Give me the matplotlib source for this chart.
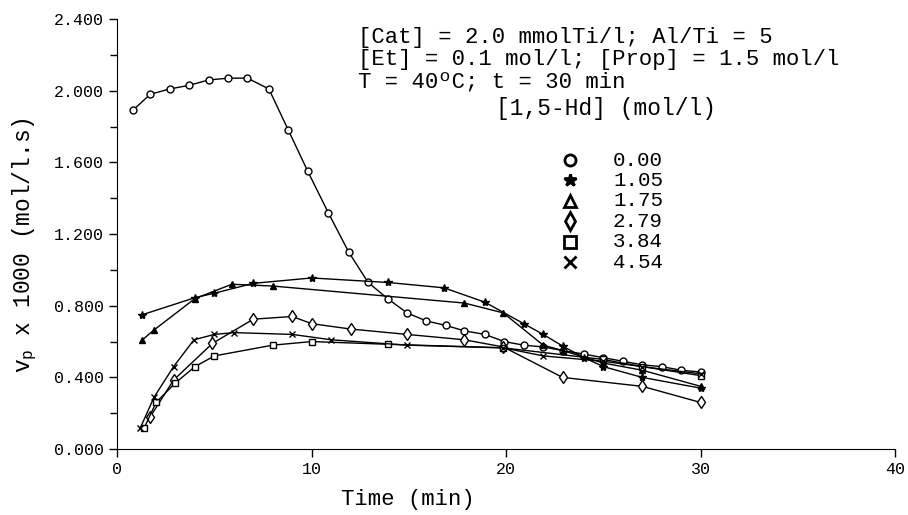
import numpy as np
import matplotlib
matplotlib.use("Agg")
import matplotlib.pyplot as plt
from matplotlib.ticker import MultipleLocator, FormatStrFormatter

plt.rcParams['font.family'] = ['Liberation Mono', 'DejaVu Sans Mono']
plt.rcParams['mathtext.default'] = 'regular'

# [1,5-Hd] (mol/l) series: time (min) and vp x 1000 (mol/l.s)
t_000 = [0.8, 1.7, 2.7, 3.7, 4.7, 5.7, 6.7, 7.8, 8.8, 9.8, 10.85, 11.9, 12.9, 13.9,
         14.9, 15.9, 16.9, 17.85, 18.9, 19.9, 20.9, 21.9, 22.9, 24, 25, 26, 27, 28, 29, 30]
v_000 = [1.89, 1.98, 2.01, 2.03, 2.06, 2.07, 2.07, 2.01, 1.78, 1.55, 1.32, 1.10, 0.93, 0.84,
         0.76, 0.715, 0.69, 0.66, 0.64, 0.60, 0.58, 0.57, 0.55, 0.53, 0.51, 0.49, 0.47, 0.46, 0.44, 0.43]

t_105 = [1.3, 4.0, 5.0, 7.0, 10.0, 13.9, 16.8, 18.9, 20.9, 21.9, 22.9, 24, 25, 27, 30]
v_105 = [0.75, 0.845, 0.87, 0.925, 0.955, 0.93, 0.90, 0.82, 0.70, 0.64, 0.575, 0.51, 0.46, 0.40, 0.34]

t_175 = [1.3, 1.9, 4.0, 5.9, 8.0, 17.85, 19.85, 21.9, 22.9, 25, 27, 30]
v_175 = [0.61, 0.665, 0.84, 0.92, 0.91, 0.815, 0.76, 0.58, 0.55, 0.48, 0.44, 0.35]

t_279 = [1.7, 2.9, 4.9, 7.0, 9.0, 10.0, 12.0, 14.9, 17.85, 19.85, 22.9, 27, 30]
v_279 = [0.18, 0.385, 0.59, 0.725, 0.74, 0.70, 0.67, 0.64, 0.61, 0.57, 0.40, 0.35, 0.26]

t_384 = [1.4, 2.0, 3.0, 4.0, 5.0, 8.0, 10.0, 13.9, 19.85, 25, 27, 30]
v_384 = [0.12, 0.26, 0.37, 0.46, 0.52, 0.58, 0.60, 0.585, 0.565, 0.50, 0.46, 0.41]

t_454 = [1.2, 1.9, 2.9, 3.95, 5.0, 6.0, 9.0, 11.0, 14.9, 19.85, 21.9, 25, 27, 30]
v_454 = [0.12, 0.29, 0.46, 0.61, 0.64, 0.65, 0.64, 0.61, 0.58, 0.565, 0.52, 0.49, 0.46, 0.42]

legend_labels = ['0.00', '1.05', '1.75', '2.79', '3.84', '4.54']
header_lines = ['[Cat] = 2.0 mmolTi/l; Al/Ti = 5',
                '[Et] = 0.1 mol/l; [Prop] = 1.5 mol/l',
                'T = 40ºC; t = 30 min']

W, H = 908, 515
fig = plt.figure(figsize=(W / 100, H / 100), dpi=100)
ax = fig.add_axes([0.129, 0.128, 0.857, 0.835])

series = [
    (t_000, v_000, dict(marker='o', ms=5, mfc='white')),
    (t_105, v_105, dict(marker='*', ms=6, mfc='black')),
    (t_175, v_175, dict(marker='^', ms=5, mfc='black')),
    (t_279, v_279, dict(marker='d', ms=6, mfc='white')),
    (t_384, v_384, dict(marker='s', ms=5, mfc='white')),
    (t_454, v_454, dict(marker='x', ms=5, mfc='black')),
]
for t, v, st in series:
    ax.plot(t, v, color='black', lw=1.0, mec='black', mew=1.0, **st)

ax.set_xlim(0, 40)
ax.set_ylim(0, 2.4)
ax.xaxis.set_major_locator(MultipleLocator(10))
ax.yaxis.set_major_locator(MultipleLocator(0.4))
ax.yaxis.set_minor_locator(MultipleLocator(0.2))
ax.yaxis.set_major_formatter(FormatStrFormatter('%.3f'))
ax.tick_params(axis='both', which='major', direction='out', length=6, width=1, labelsize=12)
ax.tick_params(axis='y', which='minor', direction='out', length=5, width=1)
ax.spines['top'].set_visible(False)
ax.spines['right'].set_visible(False)

ax.set_xlabel('Time (min)', fontsize=16)
ax.xaxis.set_label_coords(0.374, -0.093)
ax.set_ylabel('v$_p$ x 1000 (mol/l.s)', fontsize=16.5)
ax.yaxis.set_label_coords(-0.1, 0.475)

def px(x, y):
    return x / W, 1 - y / H

# condition header
for i, line in enumerate(header_lines):
    fig.text(*px(358, 38 + i * 22), line, fontsize=16, va='center', ha='left')

# manual legend in figure pixels
fig.text(*px(496, 108), '[1,5-Hd] (mol/l)', fontsize=16.5, va='center', ha='left')
for i, (lab, (_, _, st)) in enumerate(zip(legend_labels, series)):
    fx, fy = px(570, 160 + i * 20.4)
    mk = dict(st)
    mk['mfc'] = 'white' if st['marker'] in ('o', '^', 'd', 's') else 'black'
    mk['ms'] = st['ms'] + 3
    fig.add_artist(plt.Line2D([fx], [fy], transform=fig.transFigure, color='black',
                              mec='black', mew=2.0, ls='none', **mk))
    fig.text(613 / W, fy, lab, fontsize=15, va='center', ha='left')

fig.savefig('out.png', dpi=100)
